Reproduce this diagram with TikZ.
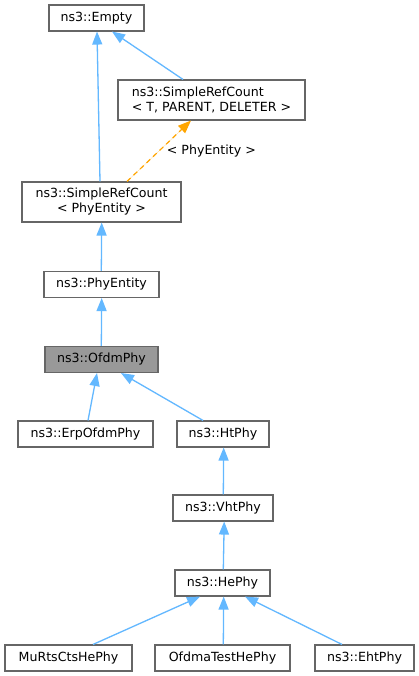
\documentclass[tikz,border=0pt]{standalone}
\usepackage{fontspec}
\setmainfont{DejaVu Sans}
\usetikzlibrary{arrows.meta,calc}
\definecolor{boxborder}{HTML}{666666}
\definecolor{hilite}{HTML}{999999}
\definecolor{edgeblue}{HTML}{63B8FF}
\definecolor{edgeorange}{HTML}{FFA500}
\begin{document}
\begin{tikzpicture}[x=1pt,y=-1pt,
  box/.style={draw=boxborder, fill=white, line width=1.1pt, inner sep=0pt,
    minimum height=26pt, font=\fontsize{12.6}{15}\selectfont, text=black},
  twoline/.style={minimum height=40pt, align=center},
  inh/.style={draw=edgeblue, line width=1.3pt, -{Triangle[length=13pt,width=10pt]}, fill=edgeblue},
  tmpl/.style={draw=edgeorange, line width=1.2pt, dash pattern=on 5pt off 4pt, -{Triangle[length=13pt,width=10pt]}, fill=edgeorange},
  elabel/.style={font=\fontsize{12.6}{15}\selectfont, text=black}]
\useasboundingbox (0,0) rectangle (419,676);
\fill[white] (0,0) rectangle (419,676);

\node[box, minimum width=95pt] (empty) at (96.5,18) {ns3::Empty};
\node[box, twoline, align=left, minimum width=187pt] (srct) at (211.5,100) {ns3::SimpleRefCount\\< T, PARENT, DELETER >};
\node[box, twoline, minimum width=159pt] (srcpe) at (101.5,202) {ns3::SimpleRefCount\\< PhyEntity >};
\node[box, minimum width=115pt] (phyent) at (101.5,284.5) {ns3::PhyEntity};
\node[box, fill=hilite, minimum width=113pt] (ofdm) at (101.5,359.5) {ns3::OfdmPhy};
\node[box, minimum width=135pt] (erp) at (85.5,434) {ns3::ErpOfdmPhy};
\node[box, minimum width=92pt] (ht) at (223,434) {ns3::HtPhy};
\node[box, minimum width=100pt] (vht) at (223,508) {ns3::VhtPhy};
\node[box, minimum width=95pt] (he) at (222.5,583) {ns3::HePhy};
\node[box, minimum width=127pt] (murts) at (68.5,658) {MuRtsCtsHePhy};
\node[box, minimum width=135pt] (ofdma) at (222.5,658) {OfdmaTestHePhy};
\node[box, minimum width=99pt] (eht) at (364.5,658) {ns3::EhtPhy};

\draw[inh] ([xshift=-1.5pt]srcpe.north) -- ([xshift=0.5pt]empty.south);
\draw[inh] ([xshift=-28.5pt]srct.north) -- ([xshift=15.5pt]empty.south);
\draw[tmpl] ([xshift=25.5pt]srcpe.north) -- node[elabel, pos=0.5, right=4pt] (lbl) {< PhyEntity >} ([xshift=-20.5pt]srct.south);
\draw[inh] ([xshift=-0.2pt]phyent.north) -- ([xshift=0.2pt]srcpe.south);
\draw[inh] ([xshift=-0.2pt]ofdm.north) -- ([xshift=0.2pt]phyent.south);
\draw[inh] ([xshift=2.5pt]erp.north) -- ([xshift=-4.5pt]ofdm.south);
\draw[inh] ([xshift=-20pt]ht.north) -- ([xshift=19.5pt]ofdm.south);
\draw[inh] ([xshift=0.3pt]vht.north) -- ([xshift=0.7pt]ht.south);
\draw[inh] ([xshift=0.8pt]he.north) -- ([xshift=1.2pt]vht.south);
\draw[inh] ([xshift=24.5pt]murts.north) -- ([xshift=-22.5pt]he.south);
\draw[inh] ([xshift=0.8pt]ofdma.north) -- ([xshift=1.2pt]he.south);
\draw[inh] ([xshift=-22.5pt]eht.north) -- ([xshift=22.5pt]he.south);
\end{tikzpicture}
\end{document}
